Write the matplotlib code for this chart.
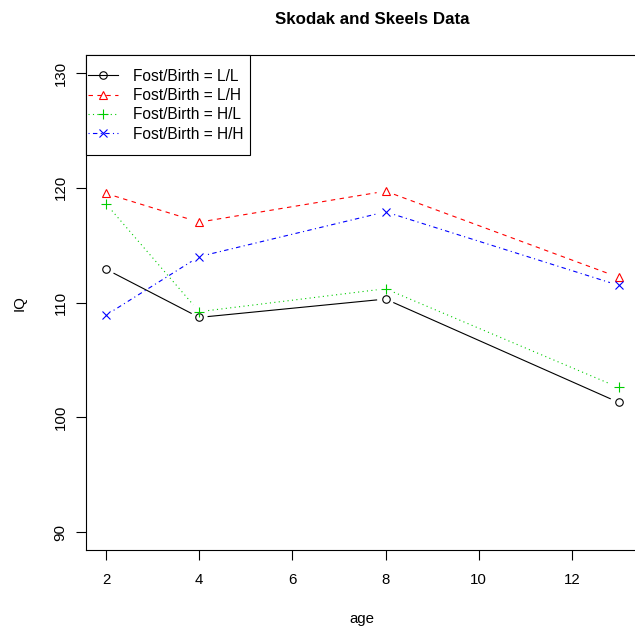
import matplotlib

matplotlib.use("Agg")
import matplotlib.pyplot as plt
import numpy as np
from matplotlib.lines import Line2D
from matplotlib.patches import Rectangle
from matplotlib.transforms import IdentityTransform

plt.rcParams["font.family"] = ["Liberation Sans", "DejaVu Sans"]

age = [2, 4, 8, 13]
iq_ll = [112.9, 108.7, 110.3, 101.3]
iq_lh = [119.5, 117.0, 119.7, 112.2]
iq_hl = [118.6, 109.2, 111.2, 102.6]
iq_hh = [108.9, 114.0, 117.9, 111.5]
labels = ["Fost/Birth = L/L", "Fost/Birth = L/H", "Fost/Birth = H/L", "Fost/Birth = H/H"]

# R-ish styling: col 1..4, lty 1..4, pch 1..4
STYLES = [
    dict(color="black", ls="-", marker="o", ms=5.4),
    dict(color="#FF0000", ls=(0, (4, 4)), marker="^", ms=6.2),
    dict(color="#00CD00", ls=(0, (1, 3)), marker="+", ms=7.5),
    dict(color="#0000FF", ls=(0, (1, 3, 4, 3)), marker="x", ms=5.2),
]
GAP = 9  # pixels left blank around each point, like R type="b"
FS = 10.8
LEG_FS = 11.2

fig = plt.figure(figsize=(6.35, 6.3), dpi=100)
ax = fig.add_axes([85.5 / 635, 1 - 550.4 / 630, (639 - 85.5) / 635, (550.4 - 54.6) / 630])
ax.set_xlim(1.56, 13.44)
ax.set_ylim(88.4, 131.6)
fig.canvas.draw()

for ys, st in zip([iq_ll, iq_lh, iq_hl, iq_hh], STYLES):
    pts = ax.transData.transform(np.column_stack([age, ys]))
    for p0, p1 in zip(pts[:-1], pts[1:]):
        d = p1 - p0
        n = np.hypot(*d)
        if n <= 2 * GAP:
            continue
        u = d / n
        seg = ax.transData.inverted().transform([p0 + u * GAP, p1 - u * GAP])
        ax.plot(seg[:, 0], seg[:, 1], color=st["color"], ls=st["ls"], lw=0.8)
    ax.plot(age, ys, ls="none", marker=st["marker"], ms=st["ms"], mfc="none",
            mec=st["color"], mew=0.8)

handles = [Line2D([], [], color=st["color"], ls=st["ls"], lw=0.8, marker=st["marker"],
                  ms=st["ms"], mfc="none", mec=st["color"], mew=0.8) for st in STYLES]
ax_h = ax.get_window_extent().height
leg = ax.legend(handles, labels, loc="upper left", bbox_to_anchor=(0, 1 - 12 / ax_h),
                borderaxespad=0, frameon=False, fontsize=LEG_FS, handlelength=1.93,
                labelspacing=0.27, borderpad=0.15, handletextpad=0.96)
leg.set_zorder(6)

# R-style legend box: hugs the axes corner, with equal space above and below the rows
fig.canvas.draw()
bb = leg.get_window_extent()
axbb = ax.get_window_extent()
top_gap = axbb.y1 - bb.y1
box = Rectangle((axbb.x0, bb.y0 - top_gap + 1), bb.x1 + 4 - axbb.x0, axbb.y1 - bb.y0 + top_gap - 1,
                transform=IdentityTransform(), facecolor="white", edgecolor="black",
                lw=0.8, zorder=5.5, clip_on=False)
ax.add_artist(box)

ax.set_xticks([2, 4, 6, 8, 10, 12])
ax.set_yticks([90, 100, 110, 120, 130])
ax.tick_params(direction="out", length=7, width=0.8, labelsize=FS)
ax.tick_params(axis="x", pad=9)
ax.tick_params(axis="y", pad=6)
for lab in ax.get_yticklabels():
    lab.set_rotation(90)
    lab.set_va("center")
for s in ax.spines.values():
    s.set_linewidth(0.8)

fig.text(372 / 635, 1 - 19 / 630, "Skodak and Skeels Data", ha="center", va="center",
         fontsize=12.2, fontweight="bold")
fig.text(362 / 635, 1 - 619 / 630, "age", ha="center", va="center", fontsize=FS)
fig.text(20 / 635, 1 - 303 / 630, "IQ", ha="center", va="center", fontsize=FS, rotation=90)

fig.savefig("out.png", dpi=100)
